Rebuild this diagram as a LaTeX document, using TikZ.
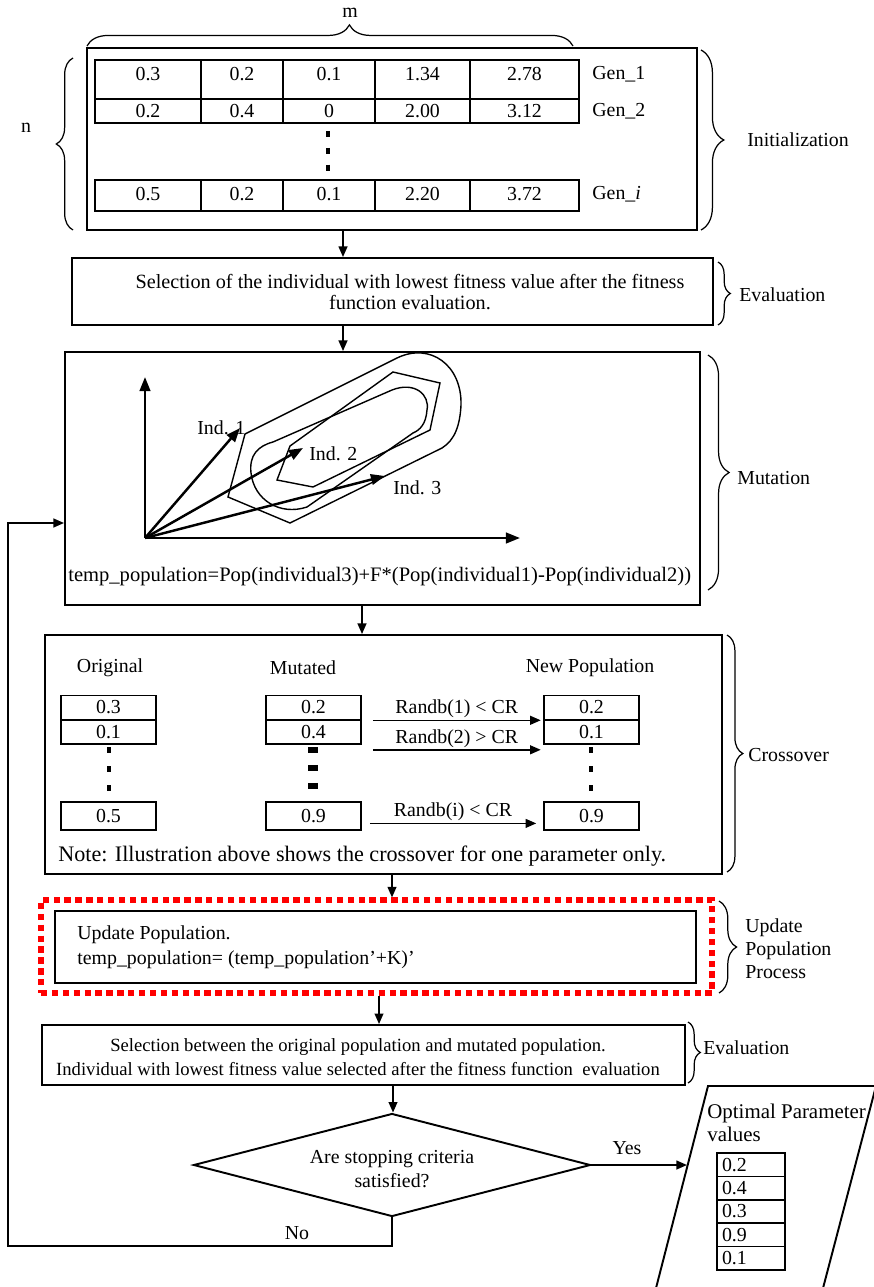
\documentclass[tikz,border=0pt]{standalone}
\usepackage{fontspec}
\setmainfont{Liberation Serif}
\usetikzlibrary{arrows.meta,decorations.pathreplacing,shapes.geometric,fit,calc,positioning}

\tikzset{
  box/.style={draw, line width=1.1pt, inner sep=0pt},
  grid/.style={line width=0.9pt},
  cell/.style={draw, line width=0.9pt, inner sep=0pt, minimum width=1.9cm, minimum height=0.48cm, font=\fontsize{11.3}{13}\selectfont},
  optcell/.style={draw, line width=0.9pt, inner ysep=0pt, inner xsep=0.1cm, text width=1.16cm, align=left, minimum height=0.468cm, font=\fontsize{11.3}{13}\selectfont},
  txt/.style={inner sep=0pt, font=\fontsize{11.3}{13.6}\selectfont},
  flow/.style={line width=0.9pt, -{Triangle[length=6pt,width=5pt]}},
  vec/.style={line width=1.4pt, -{Triangle[length=8pt,width=6pt]}},
  contour/.style={line width=0.8pt},
  brace/.style={decorate, decoration={brace, amplitude=#1}, line width=0.7pt},
  vdots/.style={line width=2.6pt, dash pattern=on 3.4pt off 6.2pt},
  reddash/.style={draw=red, line width=2.9pt, dash pattern=on 3.6pt off 2.6pt},
}

\begin{document}
\begin{tikzpicture}[x=0.02cm, y=-0.02cm]
\useasboundingbox (0,0) rectangle (874,1287);

% initialization
\node[box, fit={(87,48) (697,230)}] (init) {};
\foreach \xa/\xb/\va/\vb/\vc [count=\i] in {95/201/0.3/0.2/0.5, 201/283/0.2/0.4/0.2, 283/375/0.1/0/0.1, 375/470/1.34/2.00/2.20, 470/579/2.78/3.12/3.72}{
  \draw[grid] (\xa,60) rectangle (\xb,99) (\xa,99) rectangle (\xb,123) (\xa,180) rectangle (\xb,211);
  \node[txt] (ga\i) at ({(\xa+\xb)/2},74) {\va};
  \node[txt] (gb\i) at ({(\xa+\xb)/2},111) {\vb};
  \node[txt] (gi\i) at ({(\xa+\xb)/2},194) {\vc};
}
\draw[vdots] (328,131) -- (328,171);
\node[txt, anchor=west] (gen1) at (592,74) {Gen\_1};
\node[txt, anchor=west] (gen2) at (592,111) {Gen\_2};
\node[txt, anchor=west] (geni) at (592,194) {Gen\_\textit{i}};
\draw[brace=12pt, decoration={aspect=0.54}] (87,46) -- (573,46);
\node[txt] (m) at (350,13) {m};
\draw[brace=9.5pt] (73,230) -- (73,58);
\node[txt] (n) at (26,128) {n};
\draw[brace=13pt] (701,50) -- (701,230);
\node[txt, anchor=west] (initlbl) at (747,140) {Initialization};

% evaluation
\node[box, fit={(72,258) (713,325)}] (eval) {};
\node[txt, align=center, font=\fontsize{11.5}{12}\selectfont] (evaltxt) at (410,292) {Selection of the individual with lowest fitness value after the fitness\\function evaluation.};
\draw[brace=7pt] (718,262) -- (718,325);
\node[txt, anchor=west] (evallbl) at (739,295) {Evaluation};
\coordinate (ax) at (343,0);
\draw[flow] (init.south -| ax) -- (eval.north -| ax);

% mutation
\node[box, fit={(65,352) (700,605)}] (mut) {};
\draw[flow] (eval.south -| ax) -- (mut.north -| ax);
\coordinate (o) at (145,538);
\draw[vec] (o) -- (145,377);
\draw[vec] (o) -- (520,538);
\draw[contour] (245,434) -- (397,358) .. controls (430,342) and (462,365) .. (461,405)
  .. controls (460,425) and (455,440) .. (442,448) -- (290,523) -- (228,497) -- cycle;
\draw[contour] (277,480) -- (290,446) -- (393,372) -- (440,383) -- (430,430) -- (313,487) -- cycle;
\draw[contour] (273,442) -- (392,390) .. controls (415,381) and (430,395) .. (427,410)
  .. controls (426,424) and (420,430) .. (413,433) -- (307,507)
  .. controls (280,516) and (254,500) .. (251,473) .. controls (249,455) and (258,446) .. (273,442);
\coordinate (t1) at (240,428);
\coordinate (t2) at (303,448);
\coordinate (t3) at (385,476);
\draw[vec] (o) -- (t1);
\draw[vec] (o) -- (t2);
\draw[vec] (o) -- (t3);
\node[txt, anchor=west] (ind1) at (197,428) {Ind. 1};
\node[txt, anchor=west] (ind2) at (309,454) {Ind. 2};
\node[txt, anchor=west] (ind3) at (393,488) {Ind. 3};
\node[txt, anchor=west, font=\fontsize{11.7}{13}\selectfont] (formula) at (68,577) {temp\_population=Pop(individual3)+F*(Pop(individual1)-Pop(individual2))};
\draw[brace=12pt] (708,355) -- (708,590);
\node[txt, anchor=west] (mutlbl) at (737,478) {Mutation};

% crossover
\node[box, fit={(45,635) (722,874)}] (cross) {};
\coordinate (bx) at (362,0);
\draw[flow] (mut.south -| bx) -- (cross.north -| bx);
\node[txt] (orig) at (110,668) {Original};
\node[txt] (mutd) at (303,668) {Mutated};
\node[txt] (newp) at (590,668) {New Population};
\foreach \v/\w/\u [count=\i] in {0.3/0.2/0.2, 0.1/0.4/0.1}{
  \node[cell] (a\i) at (108.5,{683+24.5*\i}) {\v};
  \node[cell] (b\i) at (313.5,{683+24.5*\i}) {\w};
  \node[cell] (c\i) at (591.5,{683+24.5*\i}) {\u};
}
\node[cell, minimum height=0.56cm] (a3) at (108.5,816) {0.5};
\node[cell, minimum height=0.56cm] (b3) at (313.5,816) {0.9};
\node[cell, minimum height=0.56cm] (c3) at (591.5,816) {0.9};
\draw[vdots, dash pattern=on 3.4pt off 7.5pt] (109,747) -- (109,795);
\draw[vdots, dash pattern=on 3.4pt off 7.5pt] (591,747) -- (591,795);
\draw[vdots, line width=5.5pt, dash pattern=on 3.6pt off 6.6pt] (313,747) -- (313,795);
\draw[flow] ([xshift=0.22cm]b1.south east) -- node[txt, above=1pt] (r1) {Randb(1) < CR} ([xshift=-0.05cm]c1.south west);
\draw[flow] ([xshift=0.22cm, yshift=-0.1cm]b2.south east) -- node[txt, above=1pt] (r2) {Randb(2) > CR} ([xshift=-0.05cm, yshift=-0.1cm]c2.south west);
\draw[flow] ([xshift=0.16cm]$(b3.east)!0.5!(b3.south east)$) -- node[txt, above=1pt] (r3) {Randb(i) < CR} ([xshift=-0.14cm]$(c3.west)!0.5!(c3.south west)$);
\node[txt, anchor=west, font=\fontsize{12.6}{14}\selectfont] (note) at (58,856) {Note: Illustration above shows the crossover for one parameter only.};
\draw[brace=9pt] (727,635) -- (727,872);
\node[txt, anchor=west] (crosslbl) at (748,755) {Crossover};

% update population
\node[reddash, inner sep=0pt, fit={(41,900) (712,993)}] (updred) {};
\node[box, fit={(55,911) (696,983)}] (upd) {};
\coordinate (cx) at (392,0);
\draw[flow] (cross.south -| cx) -- (updred.north -| cx);
\node[txt, anchor=west, align=left, font=\fontsize{11.3}{14}\selectfont] (updtxt) at (77,947) {Update Population.\\temp\_population= (temp\_population'+K)'};
\draw[brace=10pt] (719,901) -- (719,993);
\node[txt, anchor=west, align=left, font=\fontsize{11.3}{13}\selectfont] (updlbl) at (745,949) {Update\\Population\\Process};

% second evaluation
\node[box, fit={(42,1025) (685,1085)}] (eval2) {};
\coordinate (dx) at (379,0);
\draw[flow] (updred.south -| dx) -- (eval2.north -| dx);
\node[txt, align=center, font=\fontsize{10.6}{14}\selectfont] (eval2txt) at (358,1057) {Selection between the original population and mutated population.\\Individual with lowest fitness value selected after the fitness function\ \ evaluation};
\draw[brace=7pt] (688,1022) -- (688,1083);
\node[txt, anchor=west] (eval2lbl) at (703,1048) {Evaluation};

% decision
\node[draw, diamond, line width=1.1pt, minimum width=7.94cm, minimum height=2.06cm, inner sep=0pt] (dia) at (392,1165) {};
\node[txt, align=center] (diatxt) at (392,1169) {Are stopping criteria\\satisfied?};
\coordinate (ex) at (393,0);
\draw[flow] (eval2.south -| ex) -- (dia.north -| ex);

% output
\draw[box] (655,1292) -- (708,1086) -- (876,1086) -- (822,1292);
\coordinate (opt) at (687,1165);
\draw[flow] (dia.east) -- (opt);
\node[txt] (yes) at (627,1148) {Yes};
\node[txt, anchor=west, align=left, font=\fontsize{11.9}{13}\selectfont] (opttxt) at (707,1123) {Optimal Parameter\\values};
\foreach \v [count=\i] in {0.2,0.4,0.3,0.9,0.1}{
  \node[optcell] (p\i) at (751,{1141.3+23.4*\i}) {\v};
}

% loop back
\coordinate (lc) at (8,1246);
\coordinate (back) at (0,523);
\draw[flow] (dia.south) |- (lc) |- (mut.west |- back);
\node[txt] (no) at (297,1233) {No};
\end{tikzpicture}
\end{document}
